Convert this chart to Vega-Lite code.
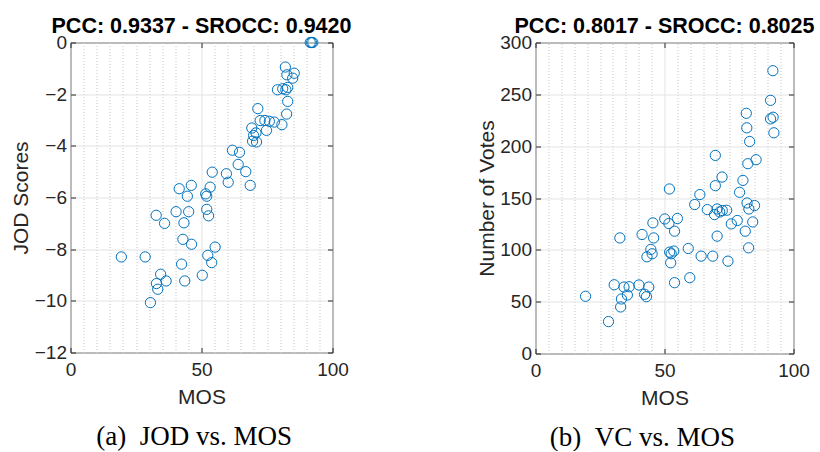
{
  "$schema": "https://vega.github.io/schema/vega-lite/v6.json",
  "padding": {"left": 9.5, "top": 15.5, "right": 0, "bottom": 0},
  "background": "white",
  "datasets": {
    "jod": [
      {"mos": 91.5, "jod": 0}, {"mos": 92.5, "jod": 0}, {"mos": 92.0, "jod": 0},
      {"mos": 82.0, "jod": -0.95}, {"mos": 85.4, "jod": -1.19}, {"mos": 84.8, "jod": -1.38},
      {"mos": 82.6, "jod": -1.25}, {"mos": 79.0, "jod": -1.83}, {"mos": 81.0, "jod": -1.79},
      {"mos": 82.2, "jod": -1.83}, {"mos": 82.9, "jod": -1.74}, {"mos": 82.9, "jod": -2.28},
      {"mos": 82.5, "jod": -2.77}, {"mos": 71.5, "jod": -2.56}, {"mos": 72.4, "jod": -3.02},
      {"mos": 74.2, "jod": -3.02}, {"mos": 75.9, "jod": -3.05}, {"mos": 77.8, "jod": -3.08},
      {"mos": 80.7, "jod": -3.18}, {"mos": 74.8, "jod": -3.40}, {"mos": 69.2, "jod": -3.31},
      {"mos": 70.8, "jod": -3.50}, {"mos": 69.9, "jod": -3.60}, {"mos": 69.5, "jod": -3.82},
      {"mos": 71.0, "jod": -3.85}, {"mos": 61.8, "jod": -4.17}, {"mos": 64.5, "jod": -4.25},
      {"mos": 64.0, "jod": -4.72}, {"mos": 54.1, "jod": -5.02}, {"mos": 59.5, "jod": -5.08},
      {"mos": 66.9, "jod": -5.0}, {"mos": 60.2, "jod": -5.41}, {"mos": 68.6, "jod": -5.53},
      {"mos": 46.1, "jod": -5.53}, {"mos": 41.5, "jod": -5.66}, {"mos": 53.3, "jod": -5.60},
      {"mos": 44.6, "jod": -5.95}, {"mos": 51.6, "jod": -5.86}, {"mos": 52.0, "jod": -5.95},
      {"mos": 32.7, "jod": -6.69}, {"mos": 35.9, "jod": -7.0}, {"mos": 40.3, "jod": -6.55},
      {"mos": 45.1, "jod": -6.55}, {"mos": 43.3, "jod": -6.98}, {"mos": 52.0, "jod": -6.46},
      {"mos": 52.7, "jod": -6.71}, {"mos": 42.9, "jod": -7.62}, {"mos": 46.2, "jod": -7.81},
      {"mos": 55.2, "jod": -7.92}, {"mos": 19.4, "jod": -8.30}, {"mos": 28.5, "jod": -8.30},
      {"mos": 52.4, "jod": -8.24}, {"mos": 53.9, "jod": -8.52}, {"mos": 42.4, "jod": -8.58},
      {"mos": 34.4, "jod": -8.97}, {"mos": 32.8, "jod": -9.33}, {"mos": 36.5, "jod": -9.23},
      {"mos": 33.3, "jod": -9.55}, {"mos": 43.6, "jod": -9.23}, {"mos": 50.3, "jod": -9.01},
      {"mos": 30.5, "jod": -10.07}
    ],
    "vc": [
      {"mos": 92.0, "votes": 272.8}, {"mos": 91.1, "votes": 244.2}, {"mos": 92.1, "votes": 227.9},
      {"mos": 91.1, "votes": 226.3}, {"mos": 92.4, "votes": 212.9}, {"mos": 81.7, "votes": 231.7},
      {"mos": 81.9, "votes": 217.7}, {"mos": 83.0, "votes": 204.5}, {"mos": 69.7, "votes": 191.1},
      {"mos": 82.3, "votes": 183.1}, {"mos": 85.5, "votes": 186.9}, {"mos": 72.3, "votes": 170.2},
      {"mos": 80.4, "votes": 167}, {"mos": 69.7, "votes": 161.9}, {"mos": 79.1, "votes": 155.5},
      {"mos": 51.9, "votes": 158.7}, {"mos": 63.7, "votes": 153.3}, {"mos": 61.7, "votes": 143.7},
      {"mos": 82.0, "votes": 145.2}, {"mos": 82.7, "votes": 139.4}, {"mos": 84.9, "votes": 142.7},
      {"mos": 66.6, "votes": 138.8}, {"mos": 70.4, "votes": 139.4}, {"mos": 71.4, "votes": 136.5},
      {"mos": 69.4, "votes": 134}, {"mos": 74.1, "votes": 138.2}, {"mos": 72.4, "votes": 137.9},
      {"mos": 78.2, "votes": 128.3}, {"mos": 75.9, "votes": 125}, {"mos": 84.2, "votes": 126.9},
      {"mos": 81.3, "votes": 118}, {"mos": 82.6, "votes": 101.9}, {"mos": 70.4, "votes": 113.2},
      {"mos": 74.6, "votes": 89.1}, {"mos": 50.1, "votes": 129.8}, {"mos": 55.0, "votes": 130.2},
      {"mos": 51.7, "votes": 125.4}, {"mos": 53.9, "votes": 118}, {"mos": 45.5, "votes": 126},
      {"mos": 41.3, "votes": 114.8}, {"mos": 45.8, "votes": 111.5}, {"mos": 32.7, "votes": 111.5},
      {"mos": 44.7, "votes": 100.4}, {"mos": 45.2, "votes": 96.2}, {"mos": 43.2, "votes": 93.3},
      {"mos": 52.0, "votes": 97.8}, {"mos": 53.6, "votes": 98.8}, {"mos": 52.6, "votes": 96.2},
      {"mos": 52.4, "votes": 87.5}, {"mos": 59.2, "votes": 101.3}, {"mos": 64.2, "votes": 93.9},
      {"mos": 68.7, "votes": 93.9}, {"mos": 59.8, "votes": 73.1}, {"mos": 53.9, "votes": 68.3},
      {"mos": 30.5, "votes": 66.3}, {"mos": 34.3, "votes": 64.1}, {"mos": 36.3, "votes": 64.4},
      {"mos": 40.1, "votes": 66.1}, {"mos": 43.9, "votes": 64.1}, {"mos": 35.6, "votes": 56.4},
      {"mos": 33.3, "votes": 52.6}, {"mos": 33.0, "votes": 44.9}, {"mos": 42.3, "votes": 57.1},
      {"mos": 43.0, "votes": 54.8}, {"mos": 19.4, "votes": 55.2}, {"mos": 28.3, "votes": 30.8}
    ]
  },
  "config": {
    "view": {"stroke": "#262626", "strokeWidth": 1},
    "font": "Liberation Sans",
    "axis": {
      "domain": false,
      "labelFlush": false,
      "labelOverlap": false,
      "labelFont": "Liberation Sans",
      "labelFontSize": 19,
      "labelColor": "#262626",
      "titleFont": "Liberation Sans",
      "titleFontSize": 21,
      "titleFontWeight": "normal",
      "titleColor": "#262626",
      "tickColor": "#262626",
      "gridColor": "#e3e3e3",
      "gridWidth": 1
    },
    "concat": {"spacing": 123},
    "title": {"font": "Liberation Sans", "fontSize": 21.5, "fontWeight": "bold", "color": "black", "anchor": "middle"}
  },
  "hconcat": [
    {
      "title": {"text": "(a)\u2002JOD vs. MOS", "orient": "bottom", "font": "Liberation Serif", "fontSize": 27, "fontWeight": "normal", "color": "black", "offset": 15.5, "dx": 13},
      "vconcat": [
        {
          "title": {"text": "PCC: 0.9337 - SROCC: 0.9420", "offset": -4, "frame": "group"},
          "width": 262,
          "height": 310,
          "data": {"name": "jod"},
          "resolve": {"axis": {"x": "independent", "y": "independent"}},
          "layer": [
            {
              "mark": {"type": "point", "opacity": 0},
              "encoding": {
                "x": {"field": "mos", "type": "quantitative", "scale": {"domain": [0, 100], "nice": false},
                  "axis": {"orient": "top", "values": [5, 10, 15, 20, 25, 30, 35, 40, 45, 55, 60, 65, 70, 75, 80, 85, 90, 95], "grid": true, "gridDash": [1, 2], "gridColor": "#c4c4c4", "labels": false, "ticks": false, "title": null}},
                "y": {"field": "jod", "type": "quantitative", "scale": {"domain": [-12, 0], "nice": false},
                  "axis": {"orient": "right", "values": [-12, -10, -8, -6, -4, -2, 0], "grid": false, "labels": false, "ticks": true, "tickSize": -5, "title": null}}
              }
            },
            {
              "mark": {"type": "point", "opacity": 0},
              "encoding": {
                "x": {"field": "mos", "type": "quantitative", "scale": {"domain": [0, 100], "nice": false},
                  "axis": {"orient": "top", "values": [0, 50, 100], "grid": false, "labels": false, "ticks": true, "tickSize": -5, "title": null}},
                "y": {"field": "jod", "type": "quantitative", "axis": null}
              }
            },
            {
              "mark": {"type": "point", "shape": "circle", "filled": false, "color": "#0072BD", "strokeWidth": 1, "size": 105, "opacity": 1},
              "encoding": {
                "x": {"field": "mos", "type": "quantitative", "scale": {"domain": [0, 100], "nice": false},
                  "axis": {"values": [0, 50, 100], "grid": true, "ticks": true, "tickSize": -5, "labelPadding": 13, "title": "MOS", "titlePadding": 7}},
                "y": {"field": "jod", "type": "quantitative", "scale": {"domain": [-12, 0], "nice": false},
                  "axis": {"values": [-12, -10, -8, -6, -4, -2, 0], "grid": true, "ticks": true, "tickSize": -5, "labelPadding": 9, "title": "JOD Scores", "titlePadding": 2.5}}
              }
            }
          ]
        }
      ]
    },
    {
      "title": {"text": "(b)\u2002VC vs. MOS", "orient": "bottom", "font": "Liberation Serif", "fontSize": 27, "fontWeight": "normal", "color": "black", "offset": 15.5, "dx": -3},
      "vconcat": [
        {
          "title": {"text": "PCC: 0.8017 - SROCC: 0.8025", "offset": -4, "frame": "group"},
          "width": 258,
          "height": 311,
          "data": {"name": "vc"},
          "resolve": {"axis": {"x": "independent", "y": "independent"}},
          "layer": [
            {
              "mark": {"type": "point", "opacity": 0},
              "encoding": {
                "x": {"field": "mos", "type": "quantitative", "scale": {"domain": [0, 100], "nice": false},
                  "axis": {"orient": "top", "values": [5, 10, 15, 20, 25, 30, 35, 40, 45, 55, 60, 65, 70, 75, 80, 85, 90, 95], "grid": true, "gridDash": [1, 2], "gridColor": "#c4c4c4", "labels": false, "ticks": false, "title": null}},
                "y": {"field": "votes", "type": "quantitative", "scale": {"domain": [0, 300], "nice": false},
                  "axis": {"orient": "right", "values": [0, 50, 100, 150, 200, 250, 300], "grid": false, "labels": false, "ticks": true, "tickSize": -5, "title": null}}
              }
            },
            {
              "mark": {"type": "point", "opacity": 0},
              "encoding": {
                "x": {"field": "mos", "type": "quantitative", "scale": {"domain": [0, 100], "nice": false},
                  "axis": {"orient": "top", "values": [0, 50, 100], "grid": false, "labels": false, "ticks": true, "tickSize": -5, "title": null}},
                "y": {"field": "votes", "type": "quantitative", "axis": null}
              }
            },
            {
              "mark": {"type": "point", "shape": "circle", "filled": false, "color": "#0072BD", "strokeWidth": 1, "size": 105, "opacity": 1},
              "encoding": {
                "x": {"field": "mos", "type": "quantitative", "scale": {"domain": [0, 100], "nice": false},
                  "axis": {"values": [0, 50, 100], "grid": true, "ticks": true, "tickSize": -5, "labelPadding": 13, "title": "MOS", "titlePadding": 7}},
                "y": {"field": "votes", "type": "quantitative", "scale": {"domain": [0, 300], "nice": false},
                  "axis": {"values": [0, 50, 100, 150, 200, 250, 300], "grid": true, "ticks": true, "tickSize": -5, "labelPadding": 9, "title": "Number of Votes", "titlePadding": 2.5}}
              }
            }
          ]
        }
      ]
    }
  ]
}
